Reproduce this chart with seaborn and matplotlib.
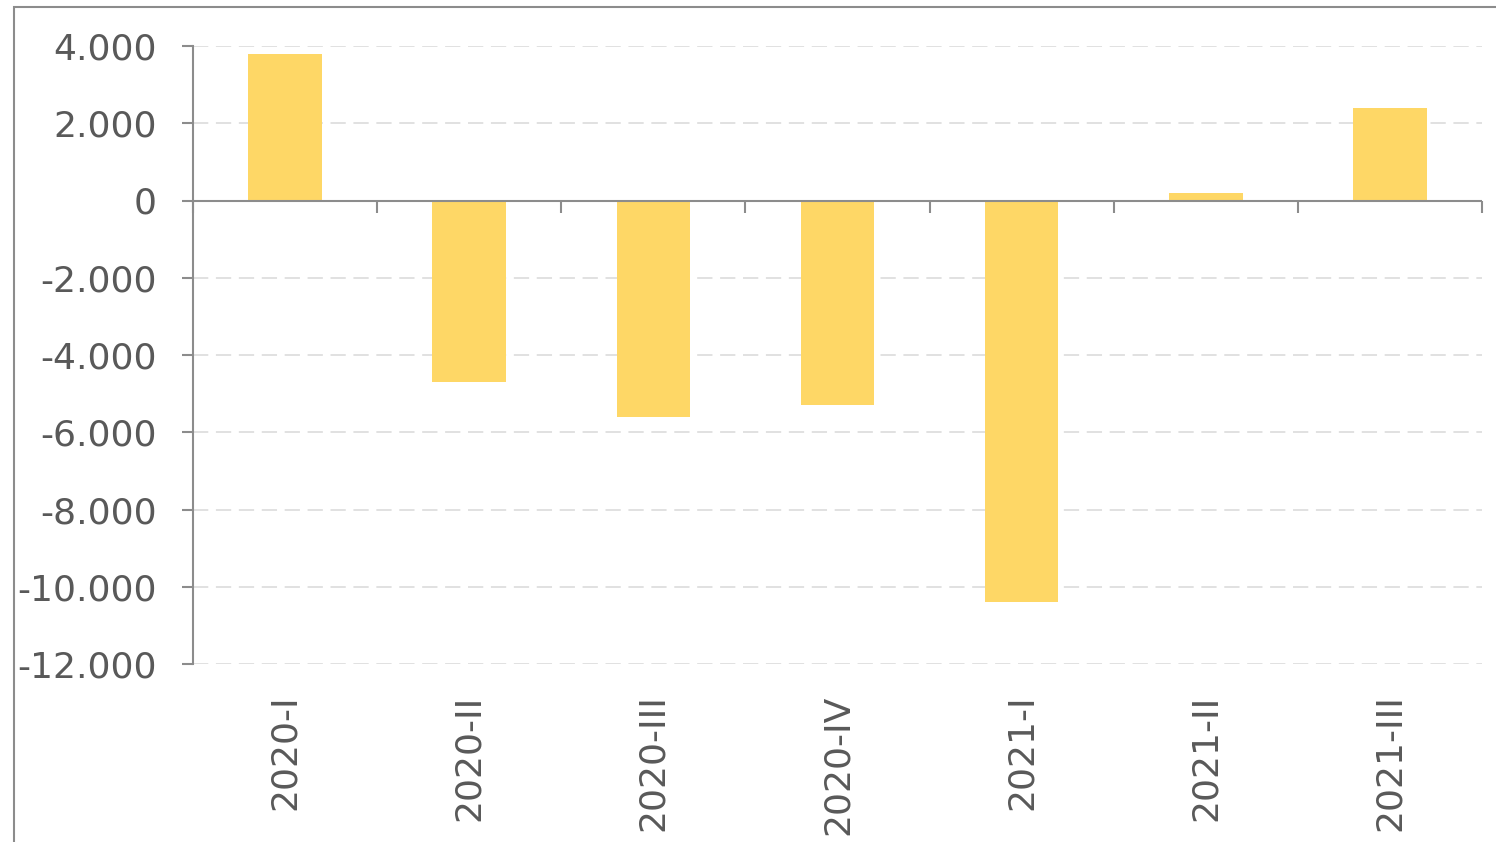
import numpy as np
import pandas as pd
import matplotlib
matplotlib.use("Agg")
import matplotlib.pyplot as plt
import seaborn as sns
from matplotlib.patches import Rectangle

# Data
quarters = ['2020-I', '2020-II', '2020-III', '2020-IV', '2021-I', '2021-II', '2021-III']
values = [3800, -4700, -5600, -5300, -10400, 200, 2400]
y_ticks = [-12000, -10000, -8000, -6000, -4000, -2000, 0, 2000, 4000]

bar_color = '#FED766'
axis_color = '#8C8C8C'
text_color = '#595959'
grid_color = '#D9D9D9'

sns.set_theme(style='white')
plt.rcParams['font.family'] = ['DejaVu Sans']

df = pd.DataFrame({'quarter': quarters, 'value': values})

fig = plt.figure(figsize=(14.96, 8.42), dpi=100)
ax = fig.add_axes([193 / 1496, 1 - 664 / 842, (1482 - 193) / 1496, (664 - 46) / 842])

sns.barplot(data=df, x='quarter', y='value', color=bar_color, saturation=1,
            width=0.4, linewidth=0, ax=ax, zorder=3)

ax.set_ylim(-12000, 4000)
ax.set_yticks(y_ticks)
ax.set_yticklabels([f'{v:,}'.replace(',', '.') for v in y_ticks])
ax.set_xlabel('')
ax.set_ylabel('')

# dashed horizontal gridlines
ax.yaxis.grid(True, color=grid_color, linestyle=(0, (10, 5)), linewidth=1.1, zorder=0)
ax.xaxis.grid(False)
ax.set_axisbelow(True)

for side in ['top', 'right', 'bottom']:
    ax.spines[side].set_visible(False)
ax.spines['left'].set_color(axis_color)
ax.spines['left'].set_linewidth(1.5)

ax.tick_params(axis='y', direction='out', length=8, width=1.5, color=axis_color,
               labelsize=26, labelcolor=text_color, pad=18, left=True)
ax.tick_params(axis='x', length=0, labelsize=26, labelcolor=text_color, pad=22,
               labelrotation=90)

# zero line with category boundary ticks
ax.axhline(0, color=axis_color, linewidth=1.5, zorder=4)
sec = ax.secondary_xaxis(0.75)
sec.set_xticks(np.arange(len(quarters) + 1) - 0.5)
sec.set_xticklabels([])
sec.xaxis.set_ticks_position('bottom')
sec.tick_params(axis='x', direction='out', length=8.5, width=1.5, color=axis_color)
for s in sec.spines.values():
    s.set_visible(False)

# outer chart frame
fig.add_artist(Rectangle((14 / 1496, -0.2), 1.2, (835 / 842) + 0.2,
                         transform=fig.transFigure, fill=False,
                         edgecolor=axis_color, linewidth=1.5))

fig.savefig('out.png', dpi=100)
